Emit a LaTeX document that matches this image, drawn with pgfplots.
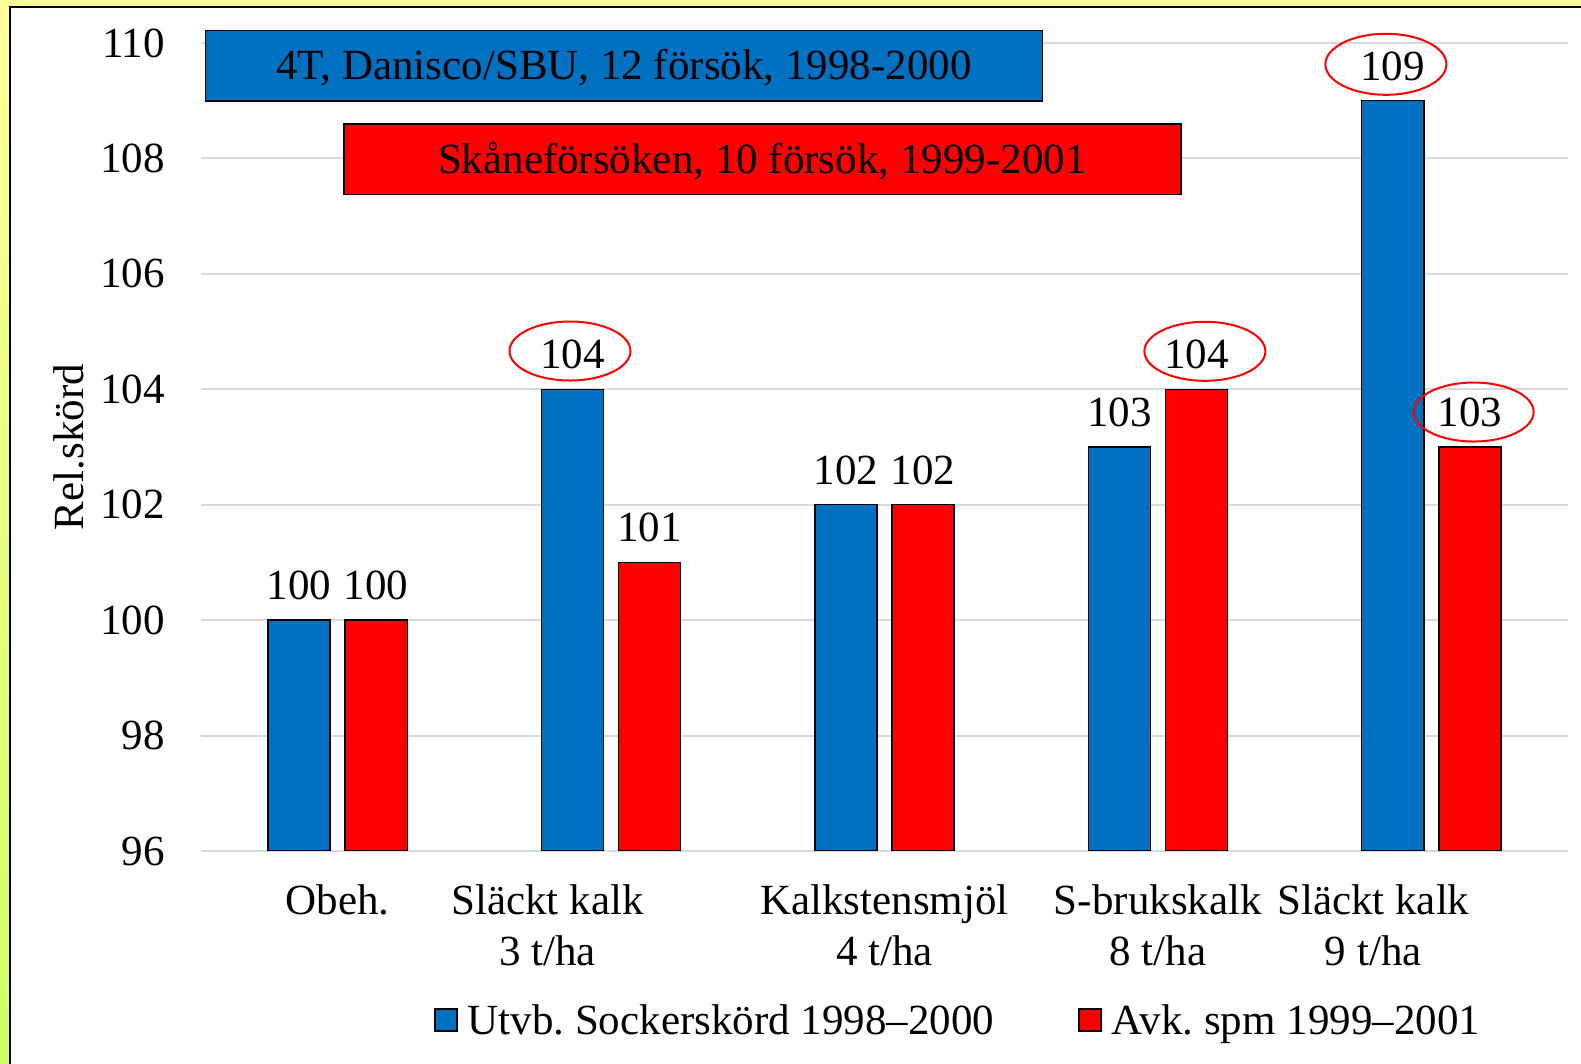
\documentclass[border=0pt]{standalone}
\usepackage{pgfplots}
\pgfplotsset{compat=1.18}
\usepackage{fontspec}
\setmainfont{Liberation Serif}
\usetikzlibrary{shapes.geometric}
\definecolor{bblue}{HTML}{0070C0}
\definecolor{rred}{HTML}{FF0000}
\definecolor{gridgray}{HTML}{D9D9D9}
\definecolor{ytop}{RGB}{255,255,153}
\definecolor{ybot}{RGB}{208,255,102}
\newcommand\cf{\fontsize{21.5pt}{25.2pt}\selectfont}
\frenchspacing
\begin{document}
\begin{tikzpicture}
% background (origin = plot area south west)
\fill[white] (-100.5pt,-106.5pt) rectangle (690pt,425.5pt);
\shade[top color=ytop, bottom color=ybot] (-100.5pt,-106.5pt) rectangle (-95.5pt,425.5pt);
\fill[ytop] (-95.5pt,422pt) rectangle (690pt,425.5pt);
\draw[black, line width=0.8pt] (-95.5pt,-106.5pt) -- (-95.5pt,422pt) -- (690pt,422pt);
\begin{axis}[
  at={(0,0)}, anchor=south west,
  scale only axis, width=683.5pt, height=404pt,
  ybar, bar width=0.227,
  xmin=-0.5, xmax=4.5, ymin=96, ymax=110,
  ytick={96,98,...,110},
  xtick={0,0.767,2,3,3.788},
  xticklabels={Obeh., {Släckt kalk\\3 t/ha}, {Kalkstensmjöl\\4 t/ha}, {S-brukskalk\\8 t/ha}, {Släckt kalk\\9 t/ha}},
  /pgf/number format/assume math mode=true,
  axis line style={draw=none}, tick style={draw=none},
  major tick length=0pt,
  ymajorgrids, grid style={color=gridgray, line width=1pt},
  clip mode=individual,
  yticklabel style={inner sep=0pt, anchor=east, xshift=-17.8pt, font=\cf},
  xticklabel style={align=center, inner sep=0pt, anchor=north, yshift=-16.7pt, font=\cf},
  ylabel={Rel.skörd},
  ylabel style={at={(axis description cs:-0.0969,0.5)}, anchor=center, font=\cf},
  nodes near coords,
  every node near coord/.append style={anchor=south, inner sep=0pt, yshift=9.7pt, font=\cf, text=black},
  legend columns=2,
  legend style={at={(axis description cs:0.1702,-0.2104)}, anchor=west, draw=none, fill=none,
    inner sep=0pt, font=\cf, nodes={inner sep=0pt}, column sep=5pt,
    /tikz/every even column/.append style={column sep=42pt}},
  legend image code/.code={\draw[#1, line width=0.75pt] (0pt,-5pt) rectangle (11pt,6pt);},
]
\addplot[fill=bblue, draw=black, line width=0.75pt, bar shift=-0.141] coordinates {(0,100) (1,104) (2,102) (3,103) (4,109)};
\addplot[fill=rred, draw=black, line width=0.75pt, bar shift=0.141] coordinates {(0,100) (1,101) (2,102) (3,104) (4,103)};
\legend{Utvb. Sockerskörd 1998–2000, Avk. spm 1999–2001}
\node[draw=black, line width=0.75pt, fill=bblue, minimum width=418.5pt, minimum height=35.3pt, inner sep=0pt, text height=13.8pt, text depth=0pt, font=\cf] at (axis cs:1.047,109.608) {4T, Danisco/SBU, 12 försök, 1998-2000};
\node[draw=black, line width=0.75pt, fill=rred, minimum width=418.5pt, minimum height=35.3pt, inner sep=0pt, text height=13.8pt, text depth=0pt, font=\cf] at (axis cs:1.553,107.985) {Skåneförsöken, 10 försök, 1999-2001};
\node[ellipse, draw=rred, line width=1pt, minimum width=60.5pt, minimum height=29.5pt, inner sep=0pt] at (axis cs:0.8497,104.663) {};
\node[ellipse, draw=rred, line width=1pt, minimum width=60.5pt, minimum height=29.5pt, inner sep=0pt] at (axis cs:3.172,104.658) {};
\node[ellipse, draw=rred, line width=1pt, minimum width=60.5pt, minimum height=30.5pt, inner sep=0pt] at (axis cs:3.834,109.631) {};
\node[ellipse, draw=rred, line width=1pt, minimum width=60pt, minimum height=29.5pt, inner sep=0pt] at (axis cs:4.155,103.606) {};
\end{axis}
\pgfresetboundingbox
\useasboundingbox (-100.5pt,-106.5pt) rectangle (690pt,425.5pt);
\end{tikzpicture}
\end{document}
